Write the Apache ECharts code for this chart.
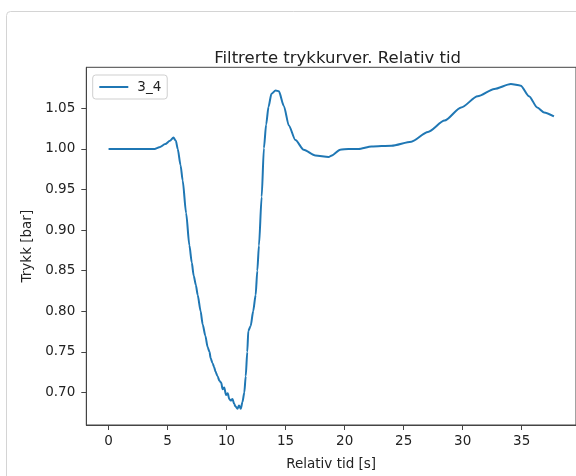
<!DOCTYPE html>
<html>
<head>
<meta charset="utf-8">
<script src="https://cdn.jsdelivr.net/npm/echarts@6/dist/echarts.min.js"></script>
<style>
html,body{margin:0;padding:0;background:#fff;}
#c{width:576px;height:476px;}
</style>
</head>
<body>
<div id="c"></div>
<script>
const seriesName = '3_4';
const times = [0,1,2,3,3.9,4.3,4.8,5.2,5.5,5.7,5.86,6.1,6.28,6.57,6.85,7.05,7.21,7.4,7.55,7.8,7.97,8.2,8.39,8.55,8.65,8.81,8.95,9.05,9.23,9.4,9.55,9.65,9.8,9.95,10.1,10.22,10.35,10.5,10.64,10.75,10.92,11.05,11.2,11.34,11.5,11.62,11.75,11.84,12.04,12.25,12.46,12.6,12.74,12.97,13.16,13.35,13.55,13.8,14.15,14.43,14.85,15.27,15.83,16.53,17.52,18.64,18.92,19.62,20.32,21.16,22.28,23.97,25.65,27.06,28.47,29.87,31.27,32.68,34.08,34.92,35.62,36.32,36.89,37.73];
const pressure = [1.000,1.000,1.000,1.000,1.000,1.002,1.006,1.010,1.014,1.010,1.000,0.980,0.961,0.921,0.881,0.860,0.844,0.832,0.820,0.800,0.784,0.770,0.756,0.750,0.742,0.736,0.731,0.726,0.720,0.714,0.712,0.704,0.706,0.697,0.699,0.692,0.690,0.692,0.686,0.683,0.680,0.684,0.680,0.688,0.700,0.720,0.750,0.776,0.782,0.800,0.820,0.850,0.881,0.941,1.001,1.030,1.052,1.068,1.072,1.071,1.053,1.029,1.011,0.999,0.992,0.990,0.992,0.999,1.000,1.000,1.003,1.004,1.009,1.021,1.035,1.051,1.065,1.074,1.080,1.078,1.065,1.051,1.045,1.040];
const xTicks = [0,5,10,15,20,25,30,35];
const yTicks = [0.70,0.75,0.80,0.85,0.90,0.95,1.00,1.05];

const FONT = 'DejaVu Sans';
const AX = '#444';
const data = times.map((t,i)=>[t, pressure[i]]);

const chart = echarts.init(document.getElementById('c'), null, {renderer:'canvas'});
chart.setOption({
  backgroundColor:'#fff',
  animation:false,
  graphic:[{
    type:'rect', shape:{x:6.5,y:11.5,width:620,height:520,r:4},
    style:{fill:'none',stroke:'#d4d4d4',lineWidth:1}, z:-1
  }],
  title:{
    text:'Filtrerte trykkurver. Relativ tid',
    left:332.6, top:45, textAlign:'center',
    textStyle:{fontFamily:FONT,fontSize:16.5,fontWeight:'normal',color:'#222'}
  },
  legend:{
    left:92.7, top:75, orient:'vertical',
    padding:[5,6,5,5.6],
    itemWidth:29, itemHeight:14,
    borderColor:'#cfcfcf', borderWidth:1, borderRadius:3,
    backgroundColor:'rgba(255,255,255,0.8)',
    itemStyle:{opacity:0},
    lineStyle:{color:'#1f77b4',width:2},
    textStyle:{fontFamily:FONT,fontSize:13.5,color:'#222',padding:[0,0,0,4]},
    data:[seriesName]
  },
  grid:{left:86.3, top:67.3, width:492.6, height:366, show:true, borderColor:AX, borderWidth:1, containLabel:false},
  xAxis:{
    type:'value', min:-1.886, max:39.6,
    name:'Relativ tid [s]', nameLocation:'middle', nameGap:32,
    nameTextStyle:{fontFamily:FONT,fontSize:13.5,color:'#222'},
    axisLine:{show:true,onZero:false,lineStyle:{color:AX,width:1}},
    axisTick:{show:true,inside:false,length:5,customValues:xTicks,lineStyle:{color:AX}},
    axisLabel:{customValues:xTicks,margin:9,fontFamily:FONT,fontSize:13.5,color:'#222'},
    splitLine:{show:false}
  },
  yAxis:{
    type:'value', min:0.6599, max:1.1006,
    name:'Trykk [bar]', nameLocation:'middle', nameGap:41, nameRotate:90,
    nameTextStyle:{fontFamily:FONT,fontSize:13.5,color:'#222'},
    axisLine:{show:true,onZero:false,lineStyle:{color:AX,width:1}},
    axisTick:{show:true,inside:false,length:5,customValues:yTicks,lineStyle:{color:AX}},
    axisLabel:{customValues:yTicks,margin:11,fontFamily:FONT,fontSize:13.5,color:'#222',
      formatter:v=>v.toFixed(2)},
    splitLine:{show:false}
  },
  series:[{
    name:seriesName, type:'line', data:data,
    symbol:'none', smooth:0.25, smoothMonotone:'x',
    lineStyle:{color:'#1f77b4',width:2},
    itemStyle:{color:'#1f77b4'}
  }]
});
</script>
</body>
</html>
